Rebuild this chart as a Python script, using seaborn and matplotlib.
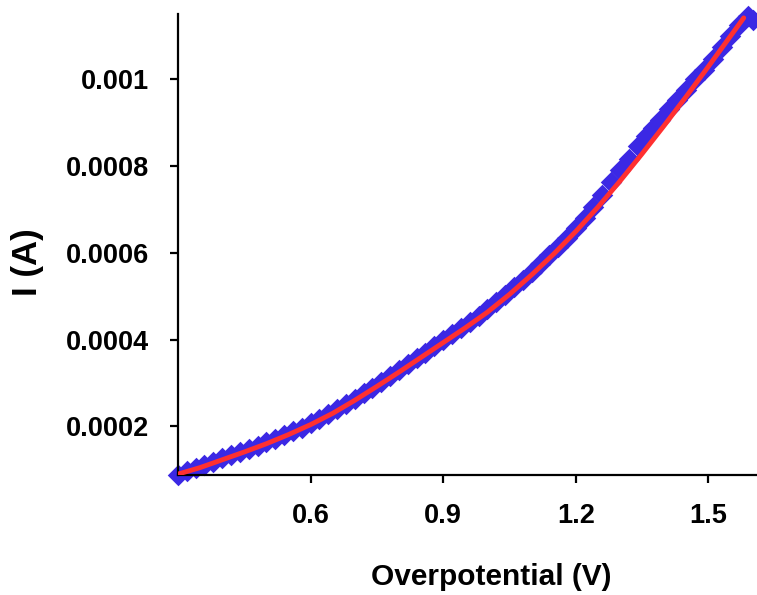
import matplotlib
matplotlib.use("Agg")
import matplotlib.pyplot as plt
import pandas as pd
import seaborn as sns

# measured points (blue diamonds), current in microamps
meas_v = [0.30, 0.32, 0.34, 0.36, 0.38, 0.40, 0.42, 0.44, 0.46, 0.48,
          0.50, 0.52, 0.54, 0.56, 0.58, 0.60, 0.62, 0.64, 0.66, 0.68,
          0.70, 0.72, 0.74, 0.76, 0.78, 0.80, 0.82, 0.84, 0.86, 0.88,
          0.90, 0.92, 0.94, 0.96, 0.98, 1.00, 1.02, 1.04, 1.06, 1.08,
          1.10, 1.12, 1.14, 1.16, 1.18, 1.20, 1.22, 1.24, 1.26, 1.28,
          1.30, 1.32, 1.34, 1.36, 1.375, 1.39, 1.41, 1.43, 1.45, 1.47,
          1.49, 1.51, 1.53, 1.55, 1.57, 1.59, 1.60]
meas_ua = [89, 98, 104, 111, 117, 126, 133, 140, 147, 155,
           163, 171, 179, 189, 197, 207, 217, 228, 239, 251,
           263, 276, 289, 302, 316, 329, 343, 357, 370, 384,
           398, 412, 426, 440, 455, 470, 486, 503, 520, 538,
           556, 575, 594, 614, 635, 657, 680, 706, 733, 762,
           790, 815, 846, 870, 888, 905, 930, 952, 974, 1000,
           1022, 1047, 1074, 1100, 1124, 1145, 1136]

# fitted curve (red line), current in microamps
fit_v = [0.30, 0.35, 0.40, 0.45, 0.50, 0.55, 0.60, 0.65, 0.70, 0.75,
         0.80, 0.85, 0.90, 0.95, 1.00, 1.05, 1.10, 1.15, 1.20, 1.25,
         1.30, 1.35, 1.40, 1.45, 1.50, 1.55, 1.58]
fit_ua = [90, 105, 123, 141, 160, 181, 204, 230, 260, 292,
          325, 359, 393, 427, 463, 504, 549, 597, 649, 705,
          765, 828, 893, 960, 1029, 1099, 1141]

meas = pd.DataFrame({"V": meas_v, "I": [u * 1e-6 for u in meas_ua]})
fit = pd.DataFrame({"V": fit_v, "I": [u * 1e-6 for u in fit_ua]})

sns.set_theme(style="white")
plt.rcParams["font.family"] = ["Liberation Sans", "DejaVu Sans"]
plt.rcParams["text.color"] = "black"
plt.rcParams["xtick.color"] = "black"
plt.rcParams["ytick.color"] = "black"
plt.rcParams["axes.labelcolor"] = "black"

fig = plt.figure(figsize=(7.57, 5.95), dpi=100)
ax = fig.add_axes([0.2351, 0.2017, 0.7649, 0.7748])

sns.scatterplot(data=meas, x="V", y="I", marker="D", s=120, color="#3b28e4",
                linewidth=0, ax=ax, clip_on=False, zorder=2)
sns.lineplot(data=fit, x="V", y="I", color="#ff3030", linewidth=3.5,
             ax=ax, zorder=3)

ax.set_xlim(0.3, 1.61)
ax.set_ylim(0.000088, 0.00115)
ax.set_xticks([0.6, 0.9, 1.2, 1.5])
ax.set_xticklabels(["0.6", "0.9", "1.2", "1.5"])
ax.set_yticks([0.0002, 0.0004, 0.0006, 0.0008, 0.001])
ax.set_yticklabels(["0.0002", "0.0004", "0.0006", "0.0008", "0.001"])

sns.despine(ax=ax)
for side in ["left", "bottom"]:
    ax.spines[side].set_color("black")
    ax.spines[side].set_linewidth(1.6)

ax.tick_params(axis="both", direction="out", length=6, width=1.6,
               color="black", labelcolor="black", labelsize=19.5, pad=15)
ax.tick_params(axis="x", bottom=True, pad=14)
ax.tick_params(axis="y", left=True)
for lab in ax.get_xticklabels() + ax.get_yticklabels():
    lab.set_fontweight("bold")

ax.set_xlabel("Overpotential (V)", fontsize=21.5, fontweight="bold",
              color="black")
ax.set_ylabel("I (A)", fontsize=25, fontweight="bold", color="black")
ax.xaxis.set_label_coords(0.541, -0.19)
ax.yaxis.set_label_coords(-0.231, 0.462)
ax.grid(False)

fig.savefig("out.png", dpi=100)
